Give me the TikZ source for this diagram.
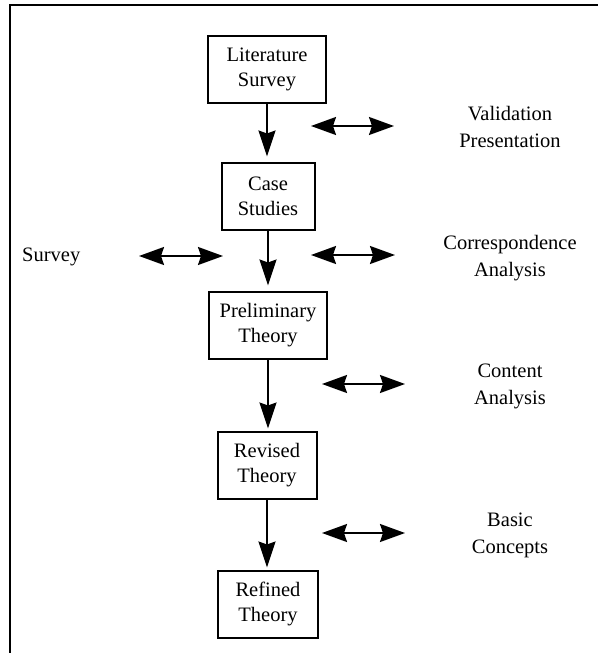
\documentclass[tikz,border=0pt]{standalone}
\usepackage{fontspec}
\setmainfont{Liberation Serif}
\usetikzlibrary{arrows.meta}
\tikzset{
  stepbox/.style={draw, line width=2pt, minimum height=67pt, inner sep=0pt, align=center,
    font=\fontsize{20.5}{25}\selectfont},
  lbl/.style={align=center, inner sep=0pt, font=\fontsize{20.5}{27}\selectfont},
  arr/.style={line width=1.8pt, -{Stealth[length=26pt, width=17pt, inset=3pt]}},
  darr/.style={line width=1.8pt, {Stealth[length=25pt, width=18pt, inset=3pt]}-{Stealth[length=25pt, width=18pt, inset=3pt]}},
  frame/.style={line width=2pt}
}
\begin{document}
\begin{tikzpicture}[x=1pt,y=-1pt]
\useasboundingbox (0,0) rectangle (598,653);
% frame (top and left sides)
\coordinate (fa) at (10,653);
\coordinate (fb) at (10,5);
\coordinate (fc) at (598,5);
\draw[frame] (fa) -- (fb) -- (fc);

% main boxes
\node[stepbox, minimum width=118pt] (lit) at (267,69) {Literature\\Survey};
\node[stepbox, minimum width=93pt] (case) at (268,196) {Case\\Studies};
\node[stepbox, minimum width=118pt] (prel) at (268,325) {Preliminary\\Theory};
\node[stepbox, minimum width=99pt] (rev) at (267,465) {Revised\\Theory};
\node[stepbox, minimum width=100pt] (ref) at (268,604) {Refined\\Theory};

% vertical arrows
\draw[arr, shorten >=5pt] (lit.south) -- (lit.south |- case.north);
\draw[arr, shorten >=5pt] (case.south) -- (case.south |- prel.north);
\draw[arr, shorten >=2pt] (prel.south) -- (prel.south |- rev.north);
\draw[arr, shorten >=2pt] (rev.south) -- (rev.south |- ref.north);

% side labels
\node[lbl] (val) at (510,127) {Validation\\Presentation};
\node[lbl] (cor) at (510,258) {Correspondence\\Analysis};
\node[lbl] (con) at (510,386) {Content\\Analysis};
\node[lbl] (bas) at (510,535) {Basic\\Concepts};
\node[lbl, anchor=west] (sur) at (22,257) {Survey};

% double arrows
\coordinate (v1) at (311,126); \coordinate (v2) at (394,126);
\coordinate (c1) at (311,255); \coordinate (c2) at (395,255);
\coordinate (s1) at (139,256); \coordinate (s2) at (223,256);
\coordinate (n1) at (322,384); \coordinate (n2) at (405,384);
\coordinate (b1) at (322,533); \coordinate (b2) at (405,533);
\draw[darr] (v1) -- (v2);
\draw[darr] (c1) -- (c2);
\draw[darr] (s1) -- (s2);
\draw[darr] (n1) -- (n2);
\draw[darr] (b1) -- (b2);
\end{tikzpicture}
\end{document}
